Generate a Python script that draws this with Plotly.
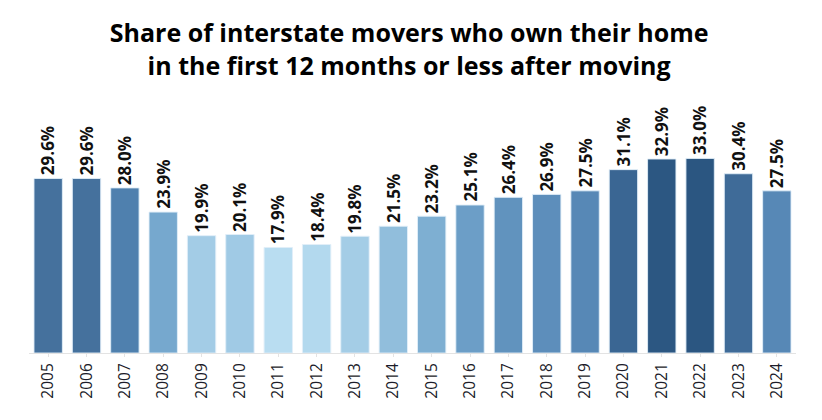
import plotly.graph_objects as go

years = [str(y) for y in range(2005, 2025)]
shares = [29.6, 29.6, 28.0, 23.9, 19.9, 20.1, 17.9, 18.4, 19.8, 21.5,
          23.2, 25.1, 26.4, 26.9, 27.5, 31.1, 32.9, 33.0, 30.4, 27.5]
labels = [f"{v:.1f}%" for v in shares]

colorscale = [
    [0.0, "#b9ddf1"],
    [0.13, "#a3cce6"],
    [0.40, "#76a8ce"],
    [0.62, "#5a8bb9"],
    [0.67, "#4f80ae"],
    [0.77, "#45719d"],
    [0.87, "#3b6794"],
    [1.0, "#2b5681"],
]

FONT = "Open Sans"

fig = go.Figure(
    go.Bar(
        x=years,
        y=shares,
        marker=dict(
            color=shares,
            colorscale=colorscale,
            cmin=17.9,
            cmax=33.0,
            line=dict(color="rgba(225,238,248,0.9)", width=1),
        ),
        width=0.74,
        hoverinfo="skip",
    )
)

for i, (v, lab) in enumerate(zip(shares, labels)):
    fig.add_annotation(
        x=i, y=v, xref="x", yref="y",
        text=lab, textangle=-90, showarrow=False,
        xanchor="center", yanchor="bottom", yshift=1,
        font=dict(family=FONT, size=17, color="#111111", weight="bold"),
    )

fig.update_layout(
    width=822,
    height=420,
    paper_bgcolor="white",
    plot_bgcolor="white",
    margin=dict(l=21, r=34, t=95, b=75, autoexpand=False),
    title=dict(
        text="Share of interstate movers who own their home<br>in the first 12 months or less after moving",
        x=0.488,
        xanchor="center",
        y=0.919,
        yanchor="top",
        font=dict(family=FONT, size=25, color="#000000", weight="bold"),
    ),
    showlegend=False,
)

fig.update_xaxes(
    type="category",
    range=[-0.5, len(years) - 0.5],
    tickangle=-90,
    tickfont=dict(family=FONT, size=15.5, color="#1c1c2a"),
    showline=True,
    linecolor="#e3e3e3",
    linewidth=1,
    ticks="outside",
    ticklen=3,
    tickcolor="#e3e3e3",
    showgrid=False,
    automargin=False,
)
fig.update_yaxes(
    range=[0, 42.4],
    visible=False,
    showgrid=False,
    zeroline=False,
    automargin=False,
)

fig.write_html("out.html")
